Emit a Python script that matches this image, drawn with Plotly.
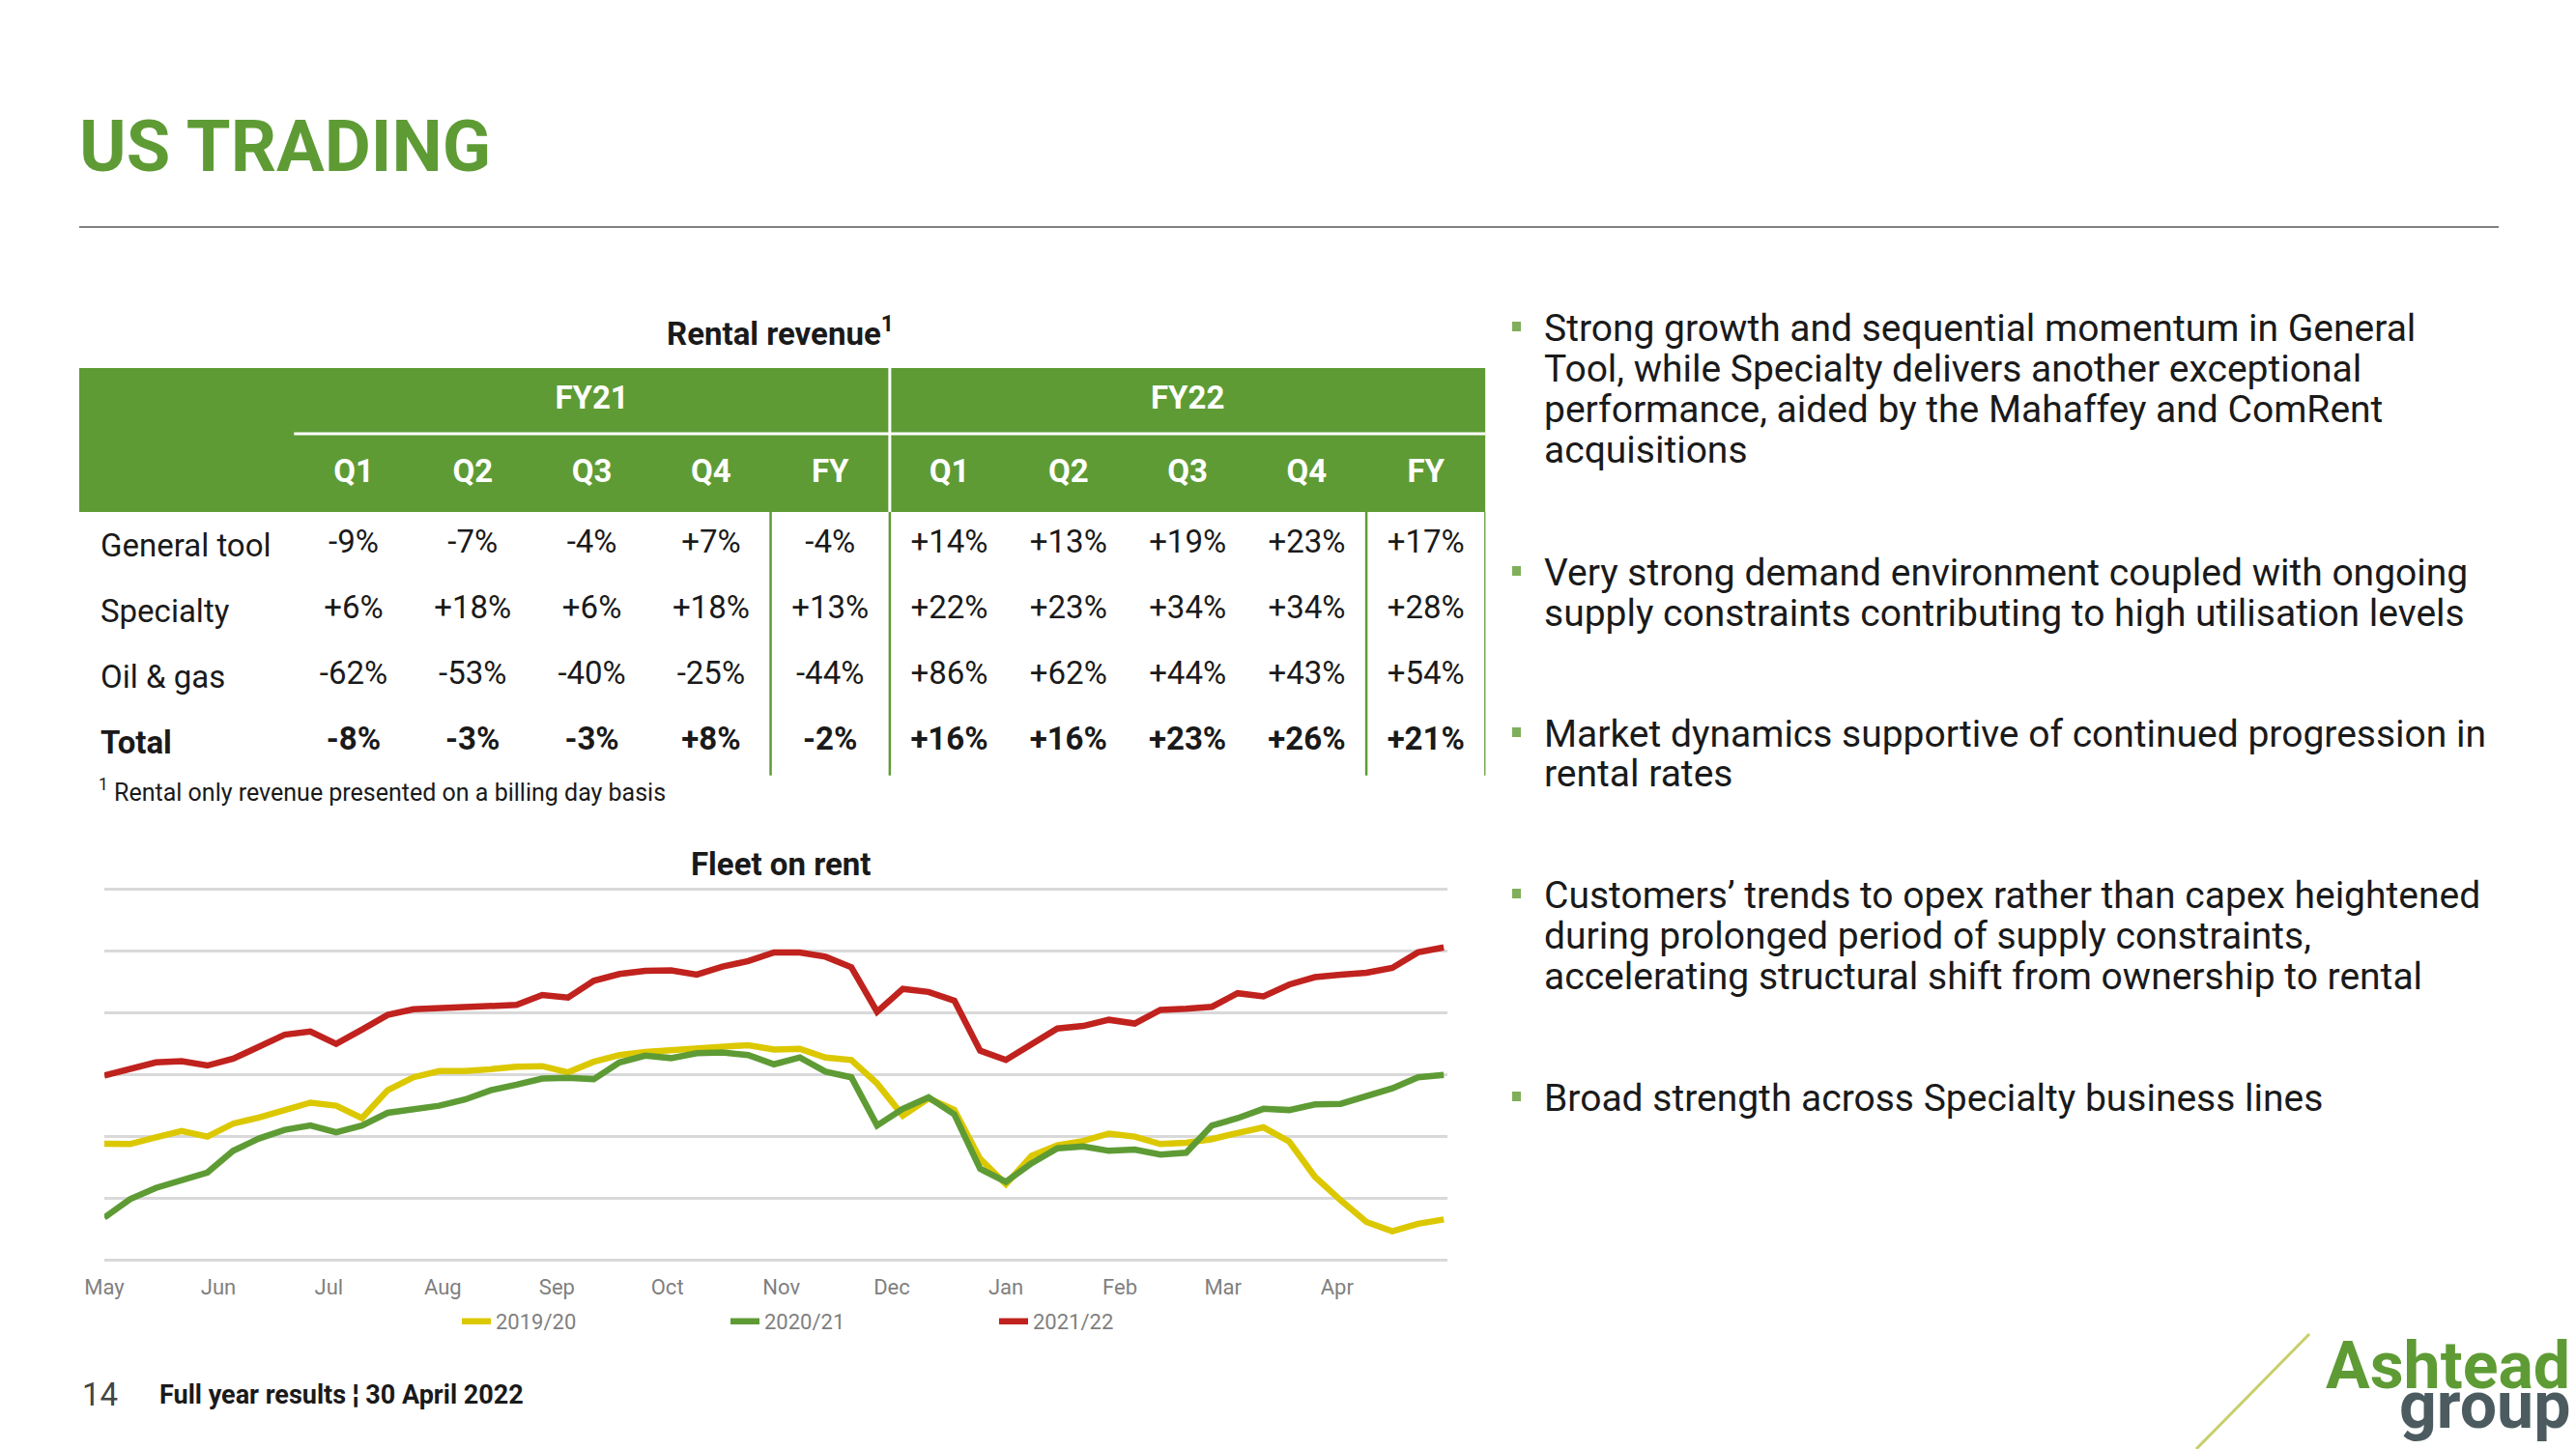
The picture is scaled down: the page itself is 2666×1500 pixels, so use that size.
import plotly.graph_objects as go
import pandas as pd

# ---------------- data ----------------
title_text = "US TRADING"
table_title = "Rental revenue<sup>1</sup>"
footnote = "<sup>1</sup> Rental only revenue presented on a billing day basis"
periods = ["FY21", "FY22"]
quarters = ["Q1", "Q2", "Q3", "Q4", "FY"]
row_labels = ["General tool", "Specialty", "Oil & gas", "Total"]
general_tool = [-9, -7, -4, 7, -4, 14, 13, 19, 23, 17]
specialty = [6, 18, 6, 18, 13, 22, 23, 34, 34, 28]
oil_gas = [-62, -53, -40, -25, -44, 86, 62, 44, 43, 54]
total = [-8, -3, -3, 8, -2, 16, 16, 23, 26, 21]

chart_title = "Fleet on rent"
series_names = ["2019/20", "2020/21", "2021/22"]
series_colors = ["#DCC800", "#5E9B35", "#C0221E"]
month_labels = ["May", "Jun", "Jul", "Aug", "Sep", "Oct", "Nov", "Dec", "Jan", "Feb", "Mar", "Apr"]
month_starts = ["2021-05-01", "2021-06-01", "2021-07-01", "2021-08-01", "2021-09-01", "2021-10-01",
                "2021-11-01", "2021-12-01", "2022-01-01", "2022-02-01", "2022-03-01", "2022-04-01"]
# weekly readings (index units), week 1 starts 1 May
weeks = pd.date_range("2021-05-01", periods=53, freq="7D")
fleet_2019_20 = [18.75, 18.7, 19.8, 20.8, 19.9, 22.0, 23.0, 24.3, 25.4, 24.9, 22.9, 27.4, 29.5, 30.5,
                 30.5, 30.8, 31.2, 31.3, 30.3, 32.0, 33.1, 33.6, 33.9, 34.1, 34.4, 34.7, 34.0,
                 34.1, 32.7, 32.3, 28.5, 23.3, 26.1, 24.2, 16.3, 12.2, 16.8, 18.5, 19.2, 20.4,
                 19.9, 18.7, 18.9, 19.5, 20.5, 21.4, 19.1, 13.4, 9.6, 6.1, 4.6, 5.8, 6.5]
fleet_2020_21 = [6.8, 9.8, 11.6, 12.9, 14.1, 17.6, 19.6, 21.0, 21.7, 20.6, 21.7, 23.75, 24.4, 24.9,
                 25.9, 27.4, 28.3, 29.3, 29.4, 29.2, 31.9, 33.0, 32.6, 33.4, 33.5, 33.1, 31.6,
                 32.7, 30.4, 29.5, 21.7, 24.4, 26.25, 23.5, 14.7, 12.6, 15.6, 18.0, 18.3, 17.6,
                 17.8, 17.0, 17.3, 21.7, 22.9, 24.4, 24.2, 25.1, 25.2, 26.5, 27.7, 29.5, 29.9]
fleet_2021_22 = [29.8, 30.8, 31.9, 32.1, 31.4, 32.5, 34.5, 36.4, 36.9, 34.9, 37.2, 39.6, 40.5, 40.7,
                 40.7, 41.0, 41.2, 42.8, 42.4, 45.1, 46.2, 46.7, 46.8, 46.1, 47.4, 48.3, 49.7,
                 49.7, 49.0, 47.3, 40.1, 43.8, 43.3, 41.9, 33.8, 32.3, 34.8, 37.4, 37.8, 38.8,
                 38.2, 40.4, 40.6, 40.9, 43.1, 42.6, 44.5, 45.7, 46.1, 46.4, 47.2, 49.7, 50.5]

bullets = [
    ["Strong growth and sequential momentum in General",
     "Tool, while Specialty delivers another exceptional",
     "performance, aided by the Mahaffey and ComRent",
     "acquisitions"],
    ["Very strong demand environment coupled with ongoing",
     "supply constraints contributing to high utilisation levels"],
    ["Market dynamics supportive of continued progression in",
     "rental rates"],
    ["Customers\u2019 trends to opex rather than capex heightened",
     "during prolonged period of supply constraints,",
     "accelerating structural shift from ownership to rental"],
    ["Broad strength across Specialty business lines"],
]
footer_page = "14"
footer_text = "Full year results \u00a6 30 April 2022"
logo_top = "Ashtead"
logo_bottom = "group"

# ---------------- styling ----------------
W, H = 2666, 1500
GREEN = "#5E9B35"
BODY = "Roboto, 'Open Sans', sans-serif"


def px(x):
    return x / W


def py(y):
    return 1 - y / H


fig = go.Figure()

# ---------------- line chart ----------------
for name, vals, col in zip(series_names, [fleet_2019_20, fleet_2020_21, fleet_2021_22], series_colors):
    fig.add_trace(go.Scatter(x=weeks, y=vals, mode="lines", name=name,
                             line=dict(color=col, width=6.5), hoverinfo="skip",
                             xaxis="x", yaxis="y"))

# ---------------- table (drawn on its own axes) ----------------
col_idx = list(range(10))
rows = [general_tool, specialty, oil_gas, total]
tx, ty, tt = [], [], []
for r, vals in enumerate(rows):
    for c, v in zip(col_idx, vals):
        s = f"{v:+d}%"
        if r == 3:
            s = f"<b>{s}</b>"
        tx.append(c)
        ty.append(-r)
        tt.append(s)
fig.add_trace(go.Scatter(x=tx, y=ty, text=tt, mode="text", showlegend=False, hoverinfo="skip",
                         textfont=dict(family=BODY, size=33, color="#1a1a1a"),
                         textposition="middle center", xaxis="x2", yaxis="y2"))
fig.add_trace(go.Scatter(x=col_idx, y=[1.074] * 10, text=[f"<b>{q}</b>" for q in quarters * 2],
                         mode="text", showlegend=False, hoverinfo="skip",
                         textfont=dict(family=BODY, size=33, color="white"),
                         textposition="middle center", xaxis="x2", yaxis="y2"))
fig.add_trace(go.Scatter(x=[2, 7], y=[2.19, 2.19], text=[f"<b>{p}</b>" for p in periods],
                         mode="text", showlegend=False, hoverinfo="skip",
                         textfont=dict(family=BODY, size=33, color="white"),
                         textposition="middle center", xaxis="x2", yaxis="y2"))

annotations = []
for r, lab in enumerate(row_labels):
    annotations.append(dict(x=-2.14, y=-r, xref="x2", yref="y2", xanchor="left", yanchor="middle",
                            text=(f"<b>{lab}</b>" if r == 3 else lab), showarrow=False,
                            font=dict(family=BODY, size=33, color="#1a1a1a")))

shapes = [
    dict(type="rect", xref="x2", yref="y2", x0=-2.303, x1=9.5, y0=0.5, y1=2.69,
         fillcolor=GREEN, line=dict(width=0), layer="below"),
    dict(type="line", xref="x2", yref="y2", x0=-0.5, x1=9.5, y0=1.69, y1=1.69,
         line=dict(color="white", width=3)),
    dict(type="line", xref="x2", yref="y2", x0=4.5, x1=4.5, y0=0.5, y1=2.69,
         line=dict(color="white", width=3)),
]
for xv in [3.5, 4.5, 8.5, 9.5]:
    shapes.append(dict(type="line", xref="x2", yref="y2", x0=xv, x1=xv, y0=0.5, y1=-3.51,
                       line=dict(color=GREEN, width=2.5)))

# titles
annotations += [
    dict(x=px(80), y=py(152), xref="paper", yref="paper", xanchor="left", yanchor="middle",
         text=f"<b>{title_text}</b>", showarrow=False, font=dict(family=BODY, size=74, color=GREEN)),
    dict(x=px(808), y=py(343), xref="paper", yref="paper", xanchor="center", yanchor="middle",
         text=f"<b>{table_title}</b>", showarrow=False, font=dict(family=BODY, size=33, color="#1a1a1a")),
    dict(x=px(100), y=py(818), xref="paper", yref="paper", xanchor="left", yanchor="middle",
         text=footnote, showarrow=False, font=dict(family=BODY, size=25, color="#1a1a1a")),
    dict(x=px(808), y=py(894), xref="paper", yref="paper", xanchor="center", yanchor="middle",
         text=f"<b>{chart_title}</b>", showarrow=False, font=dict(family=BODY, size=33, color="#1a1a1a")),
]
shapes.append(dict(type="line", xref="paper", yref="paper", x0=px(82), x1=px(2586), y0=py(235), y1=py(235),
                   line=dict(color="#808080", width=2)))

# bullets
line_y = [[340, 382, 424, 466], [593, 635], [760, 801], [927, 969, 1011], [1137]]
for lines, ys in zip(bullets, line_y):
    shapes.append(dict(type="rect", xref="paper", yref="paper", x0=px(1565), x1=px(1574),
                       y0=py(ys[0] + 3), y1=py(ys[0] - 7), fillcolor="#7FAF5A", line=dict(width=0)))
    for t, yy in zip(lines, ys):
        annotations.append(dict(x=px(1596), y=py(yy), xref="paper", yref="paper", xanchor="left",
                                yanchor="middle", text=t, showarrow=False,
                                font=dict(family=BODY, size=39, color="#1a1a1a")))

# footer + logo
annotations += [
    dict(x=px(83), y=py(1443), xref="paper", yref="paper", xanchor="left", yanchor="middle",
         text=footer_page, showarrow=False, font=dict(family=BODY, size=33, color="#444444")),
    dict(x=px(163), y=py(1444), xref="paper", yref="paper", xanchor="left", yanchor="middle",
         text=f"<b>{footer_text}</b>", showarrow=False, font=dict(family=BODY, size=27, color="#1a1a1a")),
    dict(x=px(2662), y=py(1414), xref="paper", yref="paper", xanchor="right", yanchor="middle",
         text=f"<b>{logo_top}</b>", showarrow=False, font=dict(family=BODY, size=68, color=GREEN)),
    dict(x=px(2662), y=py(1455), xref="paper", yref="paper", xanchor="right", yanchor="middle",
         text=f"<b>{logo_bottom}</b>", showarrow=False, font=dict(family=BODY, size=68, color="#4B5B60")),
]
shapes.append(dict(type="line", xref="paper", yref="paper", x0=px(2273), x1=px(2390), y0=py(1500), y1=py(1381),
                   line=dict(color="#C8CF6A", width=3)))

fig.update_layout(
    template="none",
    width=W, height=H, autosize=False,
    margin=dict(l=0, r=0, t=0, b=0, pad=0, autoexpand=False),
    paper_bgcolor="white", plot_bgcolor="white",
    font=dict(family=BODY),
    xaxis=dict(domain=[px(108), px(1498)], type="date", range=["2021-05-01", "2022-05-01"],
               tickvals=month_starts, ticktext=month_labels, showgrid=False, zeroline=False,
               showline=False, ticks="", tickfont=dict(family=BODY, size=22, color="#7f7f7f"),
               fixedrange=True, automargin=False),
    yaxis=dict(domain=[py(1316.8), py(907.2)], range=[-2, 62], tick0=0, dtick=10,
               showticklabels=False, showgrid=True, gridcolor="#d9d9d9", gridwidth=2.5,
               zeroline=False, showline=False, ticks="", fixedrange=True, automargin=False),
    xaxis2=dict(domain=[px(82), px(1537.4)], range=[-2.303, 9.5], visible=False, fixedrange=True,
                anchor="y2", automargin=False),
    yaxis2=dict(domain=[py(830), py(330)], range=[-3.91, 3.44], visible=False, fixedrange=True,
                anchor="x2", automargin=False),
    legend=dict(orientation="h", x=px(473), y=py(1368), xanchor="left", yanchor="middle",
                font=dict(family=BODY, size=22, color="#7f7f7f"), entrywidth=233,
                entrywidthmode="pixels", bgcolor="rgba(0,0,0,0)", borderwidth=0),
    showlegend=True,
    hovermode=False,
    annotations=annotations,
    shapes=shapes,
)

fig.write_html("out.html", post_script="document.body.style.margin='0';document.body.style.padding='0';")
